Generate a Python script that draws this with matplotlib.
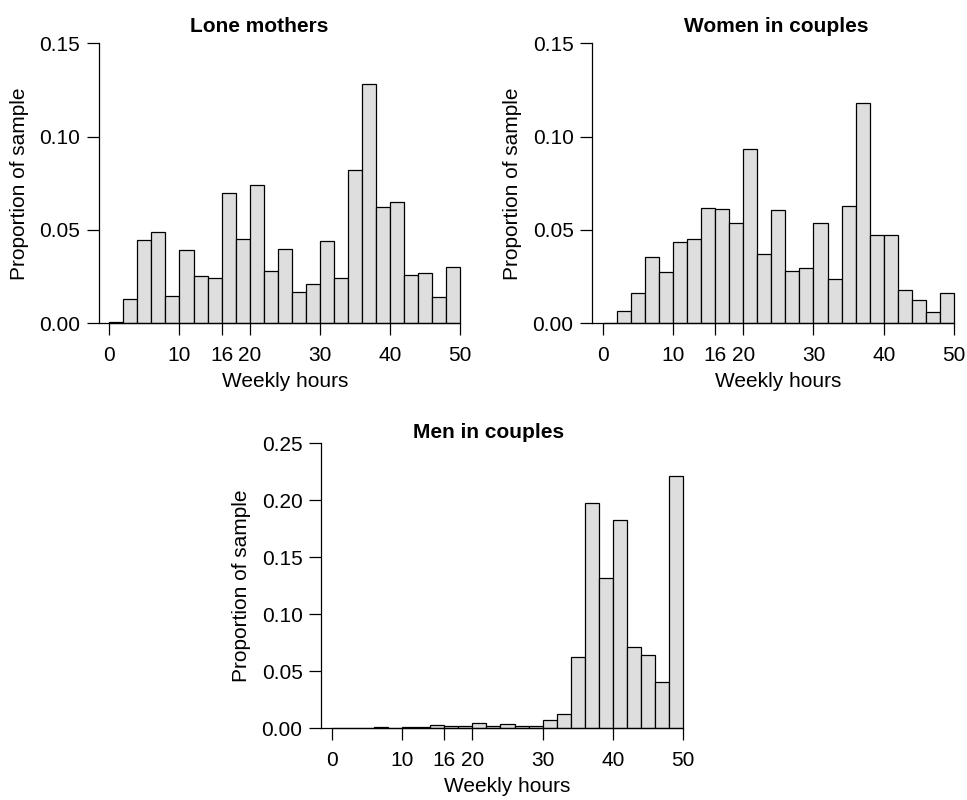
import numpy as np
import matplotlib
matplotlib.use("Agg")
import matplotlib.pyplot as plt
from matplotlib.ticker import FormatStrFormatter
from matplotlib.transforms import blended_transform_factory

plt.rcParams['font.family'] = ['Liberation Sans', 'DejaVu Sans']

bin_edges = list(range(0, 52, 2))
x_ticks = [0, 10, 16, 20, 30, 40, 50]

titles = ["Lone mothers", "Women in couples", "Men in couples"]

lone_mothers = [0.0009, 0.0132, 0.0445, 0.0488, 0.0146, 0.0395, 0.0255, 0.0245,
                0.0698, 0.0452, 0.0739, 0.0280, 0.0400, 0.0170, 0.0211, 0.0443,
                0.0241, 0.0821, 0.1282, 0.0623, 0.0652, 0.0257, 0.0271, 0.0143, 0.0302]

women_couples = [0.0002, 0.0068, 0.0164, 0.0355, 0.0273, 0.0434, 0.0452, 0.0620,
                 0.0614, 0.0538, 0.0932, 0.0370, 0.0605, 0.0279, 0.0296, 0.0538,
                 0.0239, 0.0629, 0.1179, 0.0473, 0.0473, 0.0177, 0.0125, 0.0061, 0.0164]

men_couples = [0.0000, 0.0000, 0.0006, 0.0015, 0.0006, 0.0009, 0.0015, 0.0026,
               0.0020, 0.0020, 0.0044, 0.0018, 0.0035, 0.0018, 0.0018, 0.0070,
               0.0126, 0.0623, 0.1974, 0.1319, 0.1825, 0.0713, 0.0640, 0.0404, 0.2213]

y_ticks_women = [0.00, 0.05, 0.10, 0.15]
y_ticks_men = [0.00, 0.05, 0.10, 0.15, 0.20, 0.25]

W, H = 967, 800
fig = plt.figure(figsize=(W / 100, H / 100), dpi=100)

# axes rectangles in pixels: left, top, width, height
panels = [
    (98.8, 43.3, 361.3, 280.0, lone_mothers, y_ticks_women, titles[0], 259.5, 31.7),
    (592.2, 43.3, 361.8, 280.0, women_couples, y_ticks_women, titles[1], 776.7, 31.7),
    (321.2, 443.3, 362.1, 285.0, men_couples, y_ticks_men, titles[2], 488.7, 437.7),
]

FS_TICK = 15
FS_LAB = 15
FS_TITLE = 15
edges = np.array(bin_edges)

for left, top, wd, ht, vals, yt, title, tx, ty in panels:
    ax = fig.add_axes([left / W, (H - top - ht) / H, wd / W, ht / H])
    ax.bar(edges[:-1], vals, width=2, align='edge', color='#DEDEDE',
           edgecolor='black', linewidth=0.9, clip_on=False, zorder=3)
    ax.set_xlim(-1.5, 50)
    ax.set_ylim(0, yt[-1])
    for s in ['top', 'right']:
        ax.spines[s].set_visible(False)
    ax.spines['left'].set_bounds(0, yt[-1])
    ax.spines['bottom'].set_bounds(-1.5, 50)
    for s in ['left', 'bottom']:
        ax.spines[s].set_linewidth(0.9)
        ax.spines[s].set_zorder(4)
    ax.set_xticks(x_ticks)
    ax.set_yticks(yt)
    ax.yaxis.set_major_formatter(FormatStrFormatter('%.2f'))
    ax.tick_params(axis='both', length=8.6, width=0.9, labelsize=FS_TICK)
    ax.tick_params(axis='x', pad=8.0)
    ax.tick_params(axis='y', pad=4.8)
    ax.patch.set_visible(False)
    tr = blended_transform_factory(ax.transData, fig.transFigure)
    ax.text(25, (H - (top + ht + 63.4)) / H, "Weekly hours", transform=tr,
            ha='center', va='baseline', fontsize=FS_LAB, clip_on=False)
    fig.text((left - 79.6) / W, (H - (top + ht / 2)) / H, "Proportion of sample",
             rotation=90, ha='center', va='center', fontsize=FS_LAB)
    fig.text(tx / W, (H - ty) / H, title, ha='center', va='baseline',
             fontsize=FS_TITLE, fontweight='bold')

fig.savefig("out.png", dpi=100)
